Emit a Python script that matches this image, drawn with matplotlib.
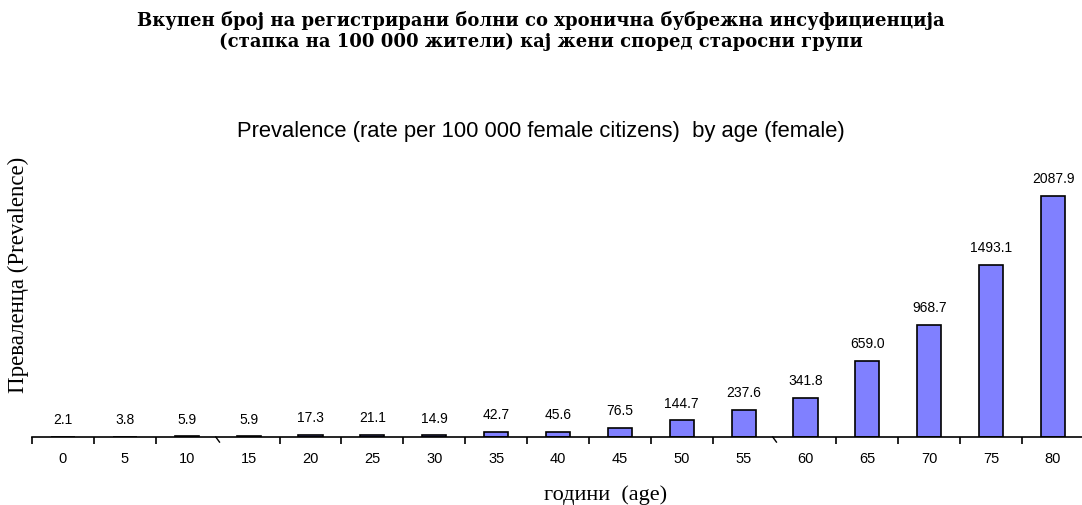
#!/usr/bin/env python

""" prevalence of chronic renal failure among women by age group """

import numpy as np
import matplotlib.pyplot as plt

# data
ages = ['0', '5', '10', '15', '20', '25', '30', '35', '40',
        '45', '50', '55', '60', '65', '70', '75', '80']
rates = [2.1, 3.8, 5.9, 5.9, 17.3, 21.1, 14.9, 42.7, 45.6,
         76.5, 144.7, 237.6, 341.8, 659.0, 968.7, 1493.1, 2087.9]
title = ('Вкупен број на регистрирани болни со хронична бубрежна инсуфициенција\n'
         '(стапка на 100 000 жители) кај жени според старосни групи')
subtitle = 'Prevalence (rate per 100 000 female citizens)  by age (female)'
# group boundaries drawn as slanted marks instead of plain ticks
slanted = [2.5, 11.5]


def main():
    fig = plt.figure(figsize=(10.82, 5.05), dpi=100)
    ax = fig.add_axes([32 / 1082, 68 / 505, 1052 / 1082, 267 / 505])

    x = np.arange(len(ages))
    ax.bar(x, rates, width=0.39, color='#8080ff', edgecolor='black',
           linewidth=1.2, zorder=2)

    # value labels above each bar
    for xi, v in zip(x, rates):
        ax.annotate('%.1f' % v, (xi, v), xytext=(0, 7),
                    textcoords='offset points', ha='center', va='bottom',
                    fontsize=10, family='Liberation Sans')

    ax.set_xlim(-0.5, len(ages) - 0.5)
    ax.set_ylim(0, 2313)

    # ticks between groups, labels at centers
    bounds = [b for b in np.arange(-0.5, len(ages) - 0.5, 1.0)
              if b not in slanted]
    ax.set_xticks(bounds)
    ax.set_xticklabels([])
    ax.set_xticks(x, minor=True)
    ax.set_xticklabels(ages, minor=True, fontsize=10.5,
                       family='Liberation Sans')
    ax.tick_params(axis='x', which='major', direction='out', length=5,
                   width=1.2)
    ax.tick_params(axis='x', which='minor', length=0, pad=11)
    trans = ax.get_xaxis_transform()
    for b in slanted:
        ax.plot([b - 0.03, b + 0.03], [0, -0.019], color='black', lw=1.0,
                transform=trans, clip_on=False)
    ax.set_yticks([])
    for s in ['top', 'right', 'left']:
        ax.spines[s].set_visible(False)
    ax.spines['bottom'].set_linewidth(1.2)

    ax.set_ylabel('Преваленца (Prevalence)', family='Liberation Serif',
                  fontsize=16.5)
    ax.yaxis.label.set_va('center')
    ax.yaxis.set_label_coords(-0.0133, 0.607)
    ax.set_xlabel('години  (age)', family='Liberation Serif', fontsize=16)
    ax.xaxis.label.set_va('center')
    ax.xaxis.set_label_coords(0.545, -0.217)

    fig.text(0.5, 1 - 31 / 505, title, ha='center', va='center', fontsize=13,
             fontweight='bold', family='DejaVu Serif', linespacing=1.2)
    fig.text(0.5, 1 - 131 / 505, subtitle, ha='center', va='center',
             fontsize=15.8, family='Liberation Sans')

    fig.savefig('out.png', dpi=100)


if __name__ == "__main__":
    main()
